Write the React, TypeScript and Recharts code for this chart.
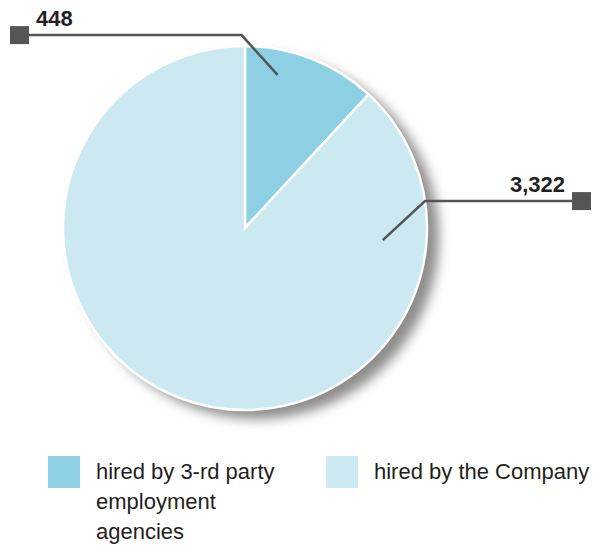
import React from 'react';
import { PieChart, Pie, Cell, Legend } from 'recharts';

const CATEGORIES = ['hired by 3-rd party employment agencies', 'hired by the Company'];
const VALUES = [448, 3322];
const VALUE_LABELS = ['448', '3,322'];

const COLORS = ['#8dd0e3', '#cce8f1'];
const LINE = '#555555';
const FONT = '"Liberation Sans", Arial, sans-serif';

// leader line layout per slice (angles in degrees, radii as fraction of outerRadius)
const LEADERS = [
  { pointAngle: 78, pointR: 0.86, elbowAngle: 91, elbowR: 1.06, endX: 28, boxX: 10, side: 'left' },
  { pointAngle: -5, pointR: 0.76, elbowAngle: 8.5, elbowR: 1.0, endX: 572, boxX: 572, side: 'right' },
];

const data = CATEGORIES.map((name, i) => ({ name, value: VALUES[i] }));
const shadowData = [{ name: 'shadow', value: VALUES.reduce((a, b) => a + b, 0) }];

const RAD = Math.PI / 180;

const renderLabel = (props: any) => {
  const { cx, cy, outerRadius, index } = props;
  const l = LEADERS[index];
  const px = cx + Math.cos(l.pointAngle * RAD) * outerRadius * l.pointR;
  const py = cy - Math.sin(l.pointAngle * RAD) * outerRadius * l.pointR;
  const ex = cx + Math.cos(l.elbowAngle * RAD) * outerRadius * l.elbowR;
  const ey = cy - Math.sin(l.elbowAngle * RAD) * outerRadius * l.elbowR;
  const left = l.side === 'left';
  return (
    <g key={`lbl-${index}`}>
      <polyline
        points={`${px},${py} ${ex},${ey} ${l.endX},${ey}`}
        fill="none"
        stroke={LINE}
        strokeWidth={2.5}
      />
      <rect x={l.boxX} y={ey - 9} width={19} height={18} fill={LINE} />
      <text
        x={left ? 36 : 565}
        y={ey - 9}
        textAnchor={left ? 'start' : 'end'}
        fontFamily={FONT}
        fontWeight="bold"
        fontSize={22}
        fill="#231f20"
      >
        {VALUE_LABELS[index]}
      </text>
    </g>
  );
};

const renderLegend = () => (
  <div style={{ position: 'relative', width: 598, height: 100, fontFamily: FONT, fontSize: 22, color: '#231f20' }}>
    {CATEGORIES.map((name, i) => (
      <div
        key={name}
        style={{ position: 'absolute', left: i === 0 ? 48 : 326, top: 0, display: 'flex', alignItems: 'flex-start' }}
      >
        <div style={{ width: 32, height: 32, background: COLORS[i], flexShrink: 0 }} />
        <div style={{ marginLeft: 16, width: i === 0 ? 195 : 240, lineHeight: '30px', marginTop: 1 }}>{name}</div>
      </div>
    ))}
  </div>
);

export default function App() {
  return (
    <div style={{ position: 'absolute', left: 0, top: 0, background: '#fff' }}>
      <PieChart width={598} height={545} margin={{ top: 0, right: 0, bottom: 0, left: 0 }}>
        <defs>
          <filter id="pieShadow" x="-20%" y="-20%" width="140%" height="140%">
            <feGaussianBlur stdDeviation="6" />
          </filter>
        </defs>
        <Pie
          data={shadowData}
          dataKey="value"
          cx={257}
          cy={237}
          outerRadius={182}
          startAngle={90}
          endAngle={-270}
          stroke="none"
          isAnimationActive={false}
          legendType="none"
        >
          <Cell fill="#8f8c8c" filter="url(#pieShadow)" style={{ filter: 'url(#pieShadow)' }} />
        </Pie>
        <Pie
          data={data}
          dataKey="value"
          cx={245}
          cy={228}
          outerRadius={182}
          startAngle={90}
          endAngle={-270}
          stroke="#ffffff"
          strokeWidth={2.5}
          label={renderLabel}
          labelLine={false}
          isAnimationActive={false}
        >
          {data.map((d, i) => (
            <Cell key={d.name} fill={COLORS[i]} />
          ))}
        </Pie>
        <Legend
          verticalAlign="bottom"
          content={renderLegend}
          wrapperStyle={{ left: 0, top: 456, width: 598 }}
        />
      </PieChart>
    </div>
  );
}
